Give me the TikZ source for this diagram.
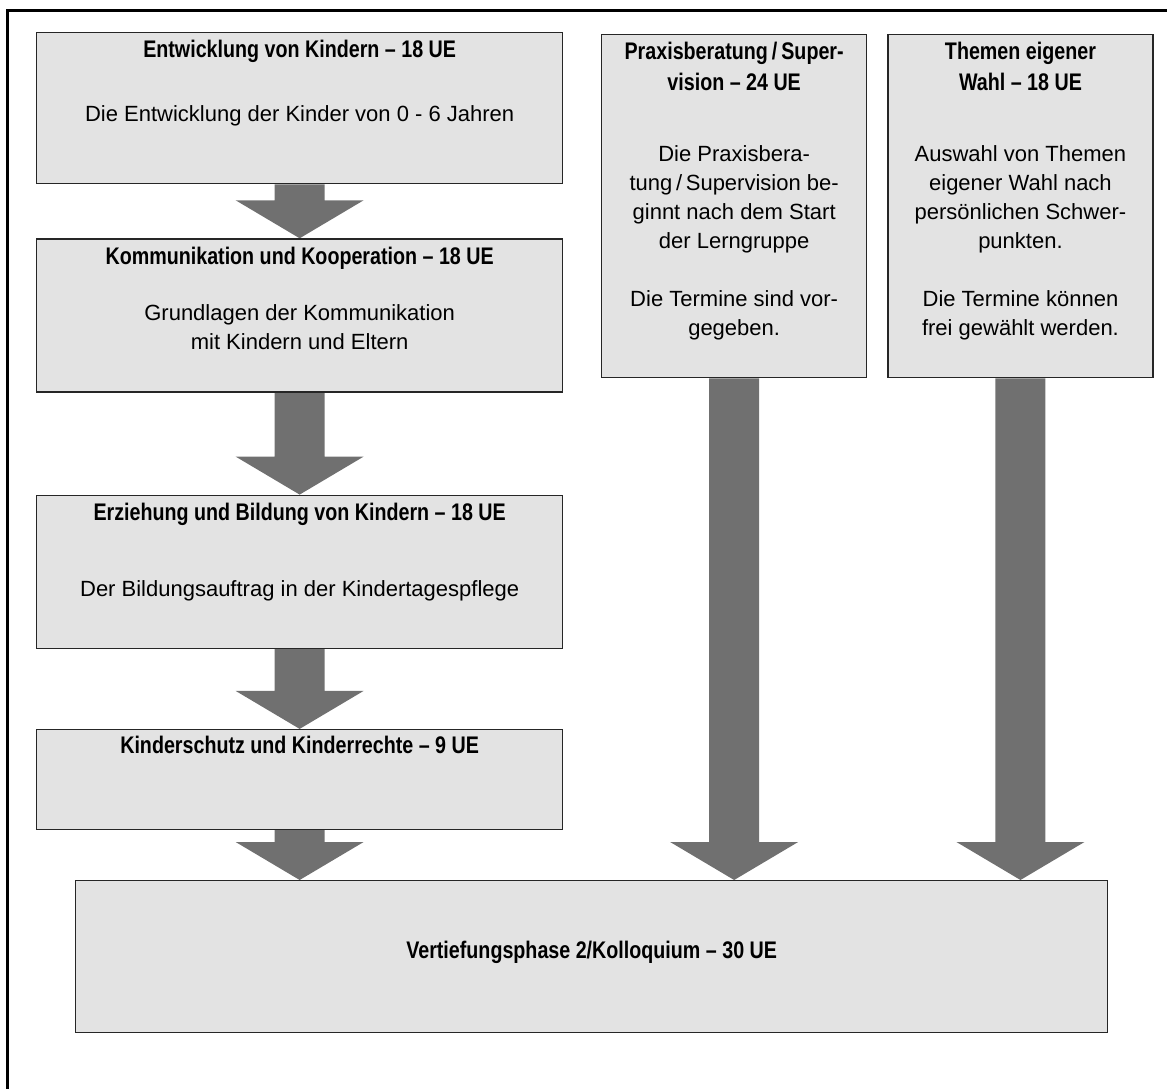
\documentclass[tikz,border=0pt]{standalone}
\usepackage{fontspec}
\setmainfont{Liberation Sans}
\newfontfamily\headfont[FakeStretch=0.82]{Liberation Sans}
\usetikzlibrary{positioning, calc, backgrounds}
\definecolor{boxgray}{HTML}{E3E3E3}
\definecolor{arrowgray}{HTML}{707070}

\begin{document}
\begin{tikzpicture}[x=1pt, y=1pt, node distance=54pt]
    	\tikzstyle{bx}=[draw=black!85,line width=1.3pt,fill=boxgray,inner sep=0pt]
    	\tikzstyle{hd}=[font=\headfont\bfseries\fontsize{24}{31.4}\selectfont,align=center,inner sep=0pt,anchor=base]
    	\tikzstyle{tx}=[font=\fontsize{22}{29}\selectfont,align=center,inner sep=0pt,anchor=base]
    	\tikzstyle{fat}=[fill=arrowgray,to path={let \p1=(\tikztostart), \p2=(\tikztotarget) in
    	  (\x1-25pt,\y1) -- (\x1-25pt,\y2+38pt) -- (\x1-64pt,\y2+38pt) -- (\x1,\y2)
    	  -- (\x1+64pt,\y2+38pt) -- (\x1+25pt,\y2+38pt) -- (\x1+25pt,\y1) -- cycle}]
    \useasboundingbox (0,0) rectangle (1167,-1089);
    \clip (0,0) rectangle (1167,-1089);
    \draw[line width=3pt] (7,-11) rectangle (1180,-1100);
    % left column
    \node[bx,minimum width=526pt,minimum height=151pt,anchor=north west] (ent) at (36,-32) {};
    \node[bx,minimum width=526pt,minimum height=153pt,below=of ent] (kom) {};
    \node[bx,minimum width=526pt,minimum height=153pt,below=102pt of kom] (erz) {};
    \node[bx,minimum width=526pt,minimum height=100pt,below=80pt of erz] (schutz) {};
    % right columns and final phase
    \node[bx,minimum width=265pt,minimum height=343pt,anchor=north west] (prax) at (601,-34) {};
    \node[bx,minimum width=265pt,minimum height=343pt,right=20pt of prax] (wahl) {};
    \node[bx,minimum width=1032pt,minimum height=152pt,anchor=north west] (vert) at (75,-880) {};
    % texts (base = baseline of the last line)
    \node[hd] (entH) at ([yshift=-26pt]ent.north) {Entwicklung von Kindern – 18 UE};
    \node[tx] (entT) at ([yshift=-90pt]ent.north) {Die Entwicklung der Kinder von 0 - 6 Jahren};
    \node[hd] (komH) at ([yshift=-26pt]kom.north) {Kommunikation und Kooperation – 18 UE};
    \node[tx] (komT) at ([yshift=-111pt]kom.north) {Grundlagen der Kommunikation\\mit Kindern und Eltern};
    \node[hd] (erzH) at ([yshift=-26pt]erz.north) {Erziehung und Bildung von Kindern – 18 UE};
    \node[tx] (erzT) at ([yshift=-102pt]erz.north) {Der Bildungsauftrag in der Kindertagespflege};
    \node[hd] (schutzH) at ([yshift=-25pt]schutz.north) {Kinderschutz und Kinderrechte – 9 UE};
    \node[hd] (praxH) at ([yshift=-57pt]prax.north) {Praxisberatung\,/\,Super-\\vision – 24 UE};
    \node[tx] (praxT) at ([yshift=-301pt]prax.north) {Die Praxisbera-\\tung\,/\,Supervision be-\\ginnt nach dem Start\\der Lerngruppe\\[29pt]Die Termine sind vor-\\gegeben.};
    \node[hd] (wahlH) at ([yshift=-57pt]wahl.north) {Themen eigener\\Wahl – 18 UE};
    \node[tx] (wahlT) at ([yshift=-301pt]wahl.north) {Auswahl von Themen\\eigener Wahl nach\\persönlichen Schwer-\\punkten.\\[29pt]Die Termine können\\frei gewählt werden.};
    \node[hd] (vertH) at ([yshift=-78pt]vert.north) {Vertiefungsphase 2/Kolloquium – 30 UE};
    % block arrows
    \begin{scope}[on background layer]
    \path[fat] (ent.south) to (kom.north);
    \path[fat] (kom.south) to (erz.north);
    \path[fat] (erz.south) to (schutz.north);
    \path[fat] (schutz.south) to (schutz.south |- vert.north);
    \path[fat] (prax.south) to (prax.south |- vert.north);
    \path[fat] (wahl.south) to (wahl.south |- vert.north);
    \end{scope}
  \end{tikzpicture}
\end{document}
